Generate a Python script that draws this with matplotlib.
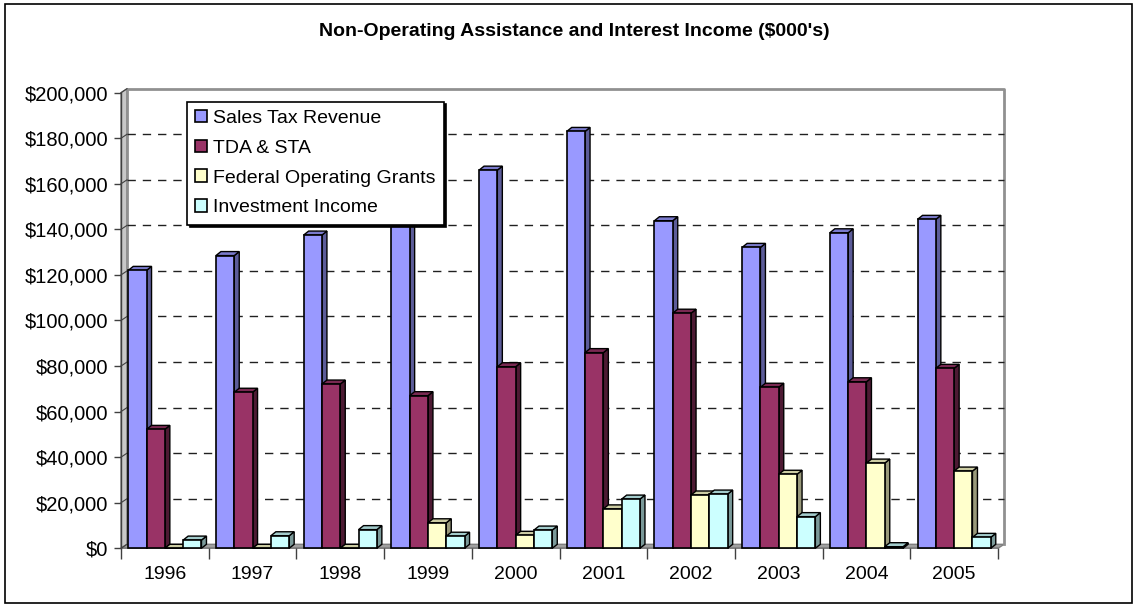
import matplotlib
matplotlib.use("Agg")
import matplotlib.pyplot as plt
from matplotlib.patches import Rectangle, Polygon, Patch
from matplotlib.ticker import FuncFormatter, FixedLocator

plt.rcParams['font.family'] = ['Liberation Sans', 'DejaVu Sans']

# Data ($000's)
years = ['1996', '1997', '1998', '1999', '2000', '2001', '2002', '2003', '2004', '2005']
series_names = ['Sales Tax Revenue', 'TDA & STA', 'Federal Operating Grants', 'Investment Income']
sales_tax = [122000, 128500, 137500, 150000, 166000, 183000, 143800, 132100, 138500, 144400]
tda_sta = [52200, 68500, 72100, 67000, 79700, 85900, 103200, 70700, 73100, 79000]
federal_grants = [0, 0, 0, 11200, 5700, 17300, 23400, 32500, 37400, 33900]
investment = [3600, 5500, 8200, 5300, 8000, 21600, 23800, 13900, 700, 4800]
y_ticks = list(range(0, 200001, 20000))

# face colours: front, side, top
palette = [
    ('#9999FF', '#5C5C99', '#7A7ACC'),
    ('#993366', '#4D1A33', '#7A2952'),
    ('#FFFFCC', '#99997A', '#CCCCA3'),
    ('#CCFFFF', '#7A9999', '#A3CCCC'),
]

W, H = 1135, 605
fig = plt.figure(figsize=(W / 100, H / 100), dpi=100)
ax_left, ax_right, ax_top, ax_bottom = 121, 998, 92.7, 548.3
ax = fig.add_axes([ax_left / W, 1 - ax_bottom / H,
                   (ax_right - ax_left) / W, (ax_bottom - ax_top) / H])
n = len(years)
ax.set_xlim(-0.5, n - 0.5)
ax.set_ylim(0, 200000)

# pixel -> data conversions for the 3D depth offsets
px_x = n / (ax_right - ax_left)
px_y = 200000 / (ax_bottom - ax_top)
bdx, bdy = 5 * px_x, 4 * px_y      # bar depth
wdx, wdy = 6 * px_x, 4 * px_y      # wall depth

# back wall, left wall and floor
x0w, x1w = -0.5, n - 0.5
ax.add_patch(Polygon([(x0w, 0), (x0w + wdx, wdy), (x0w + wdx, 200000 + wdy), (x0w, 200000)],
                     closed=True, fc='#C8C8C8', ec='#808080', lw=1, clip_on=False, zorder=0.5))
ax.add_patch(Polygon([(x0w, 0), (x1w, 0), (x1w + wdx, wdy), (x0w + wdx, wdy)],
                     closed=True, fc='#A0A0A0', ec='#808080', lw=1, clip_on=False, zorder=0.6))
ax.plot([x0w + wdx, x0w + wdx, x1w + wdx, x1w + wdx],
        [wdy, 200000 + wdy, 200000 + wdy, wdy],
        color='#909090', lw=2, clip_on=False, zorder=0.7)
for t in y_ticks[1:-1]:
    ax.plot([x0w + wdx, x1w + wdx], [t + wdy, t + wdy], color='#202020', lw=1,
            dashes=(6, 5), clip_on=False, zorder=0.8)
for t in y_ticks:
    ax.plot([x0w, x0w + wdx], [t, t + wdy], color='#404040', lw=0.8,
            clip_on=False, zorder=0.9)

# 3D columns
group = 0.835
bw = group / 4
all_series = [sales_tax, tda_sta, federal_grants, investment]
for j in range(n):
    for i, vals in enumerate(all_series):
        v = vals[j]
        x0 = j - group / 2 + i * bw
        x1 = x0 + bw
        front, side, top = palette[i]
        z = 2 + j * 0.1 + i * 0.01
        ax.add_patch(Polygon([(x1, 0), (x1 + bdx, bdy), (x1 + bdx, v + bdy), (x1, v)],
                             closed=True, fc=side, ec='black', lw=1.0, clip_on=False, zorder=z))
        ax.add_patch(Polygon([(x0, v), (x0 + bdx, v + bdy), (x1 + bdx, v + bdy), (x1, v)],
                             closed=True, fc=top, ec='black', lw=1.0, clip_on=False, zorder=z))
        ax.add_patch(Rectangle((x0, 0), bw, v, fc=front, ec='black', lw=1.2,
                               clip_on=False, zorder=z + 0.001))

# axes styling
for s in ['top', 'right', 'bottom']:
    ax.spines[s].set_visible(False)
ax.spines['left'].set_color('#404040')
ax.spines['left'].set_linewidth(1)
ax.axhline(0, color='#404040', lw=1, zorder=1)
ax.set_yticks(y_ticks)
ax.yaxis.set_major_formatter(FuncFormatter(lambda v, p: f"${int(v):,}"))
ax.tick_params(axis='y', length=5, width=1, color='#404040', pad=4, labelsize=14.5)
ax.set_xticks(range(n))
ax.set_xticklabels(years)
ax.xaxis.set_minor_locator(FixedLocator([k - 0.5 for k in range(n + 1)]))
ax.tick_params(axis='x', which='major', length=0, pad=13, labelsize=14)
ax.tick_params(axis='x', which='minor', length=8, width=1, color='#404040')
ax.patch.set_visible(False)

# legend
handles = [Patch(fc=palette[i][0], ec='black', lw=1.2) for i in range(4)]
leg = ax.legend(handles, series_names, loc='upper left',
                bbox_to_anchor=(187 / W, 1 - 101.7 / H), bbox_transform=fig.transFigure,
                borderaxespad=0, fontsize=14, handlelength=0.62, handleheight=0.62,
                handletextpad=0.3, labelspacing=0.65, borderpad=0.42, fancybox=False,
                framealpha=1, edgecolor='black',
                shadow={'facecolor': 'black', 'edgecolor': 'black', 'alpha': 1})
leg.get_frame().set_linewidth(1.2)
leg.set_zorder(10)

# title and outer frame
fig.text(574 / W, 1 - 31 / H, "Non-Operating Assistance and Interest Income ($000's)",
         ha='center', va='center', fontsize=14, fontweight='bold')
fig.add_artist(Rectangle((0.004, 0.004), 0.993, 0.99, transform=fig.transFigure,
                         fill=False, ec='black', lw=1.2))

fig.savefig('out.png', dpi=100)
